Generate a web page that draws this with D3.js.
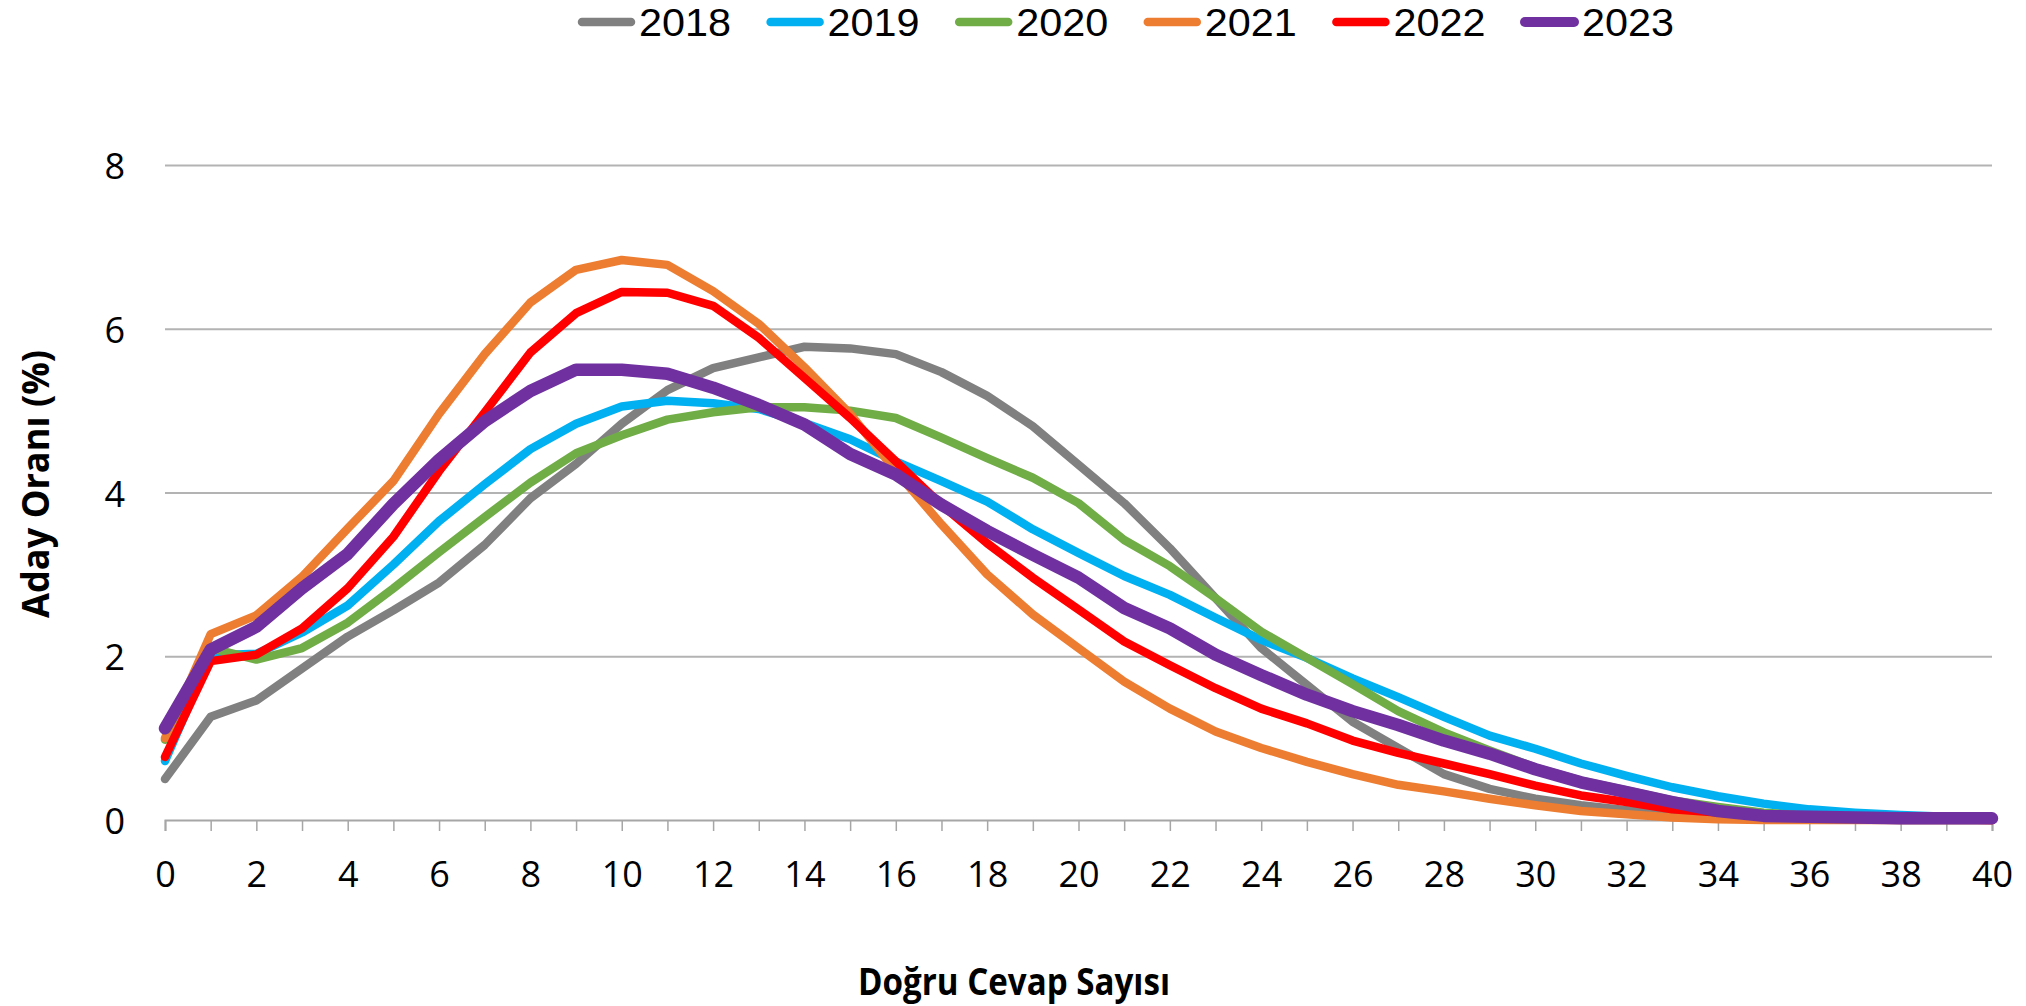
<!DOCTYPE html>
<html>
<head>
<meta charset="utf-8">
<script src="https://cdn.jsdelivr.net/npm/d3@7"></script>
<style>
  html, body { margin: 0; padding: 0; background: #ffffff; }
  svg { display: block; }
</style>
</head>
<body>
<svg id="chart" width="2026" height="1006"></svg>
<script>
// ---- data ----
const answers = d3.range(0, 41); // Doğru Cevap Sayısı 0..40
const years = ["2018", "2019", "2020", "2021", "2022", "2023"];
const yTicks = [0, 2, 4, 6, 8];
const xTickLabels = d3.range(0, 41, 2);

const s2018 = [0.50,1.26,1.46,1.85,2.24,2.56,2.90,3.36,3.93,4.35,4.84,5.25,5.52,5.65,5.78,5.76,5.69,5.47,5.18,4.81,4.34,3.87,3.32,2.71,2.10,1.65,1.20,0.88,0.56,0.38,0.26,0.18,0.12,0.07,0.04,0.02,0.01,0.01,0.00,0.00,0.00];
const s2019 = [0.72,2.01,2.03,2.29,2.62,3.12,3.65,4.10,4.53,4.84,5.05,5.12,5.09,5.02,4.85,4.65,4.38,4.14,3.89,3.55,3.26,2.98,2.75,2.47,2.20,1.98,1.73,1.50,1.26,1.03,0.87,0.69,0.54,0.40,0.29,0.20,0.13,0.09,0.06,0.04,0.03];
const s2020 = [0.98,2.10,1.96,2.10,2.41,2.83,3.27,3.70,4.12,4.48,4.70,4.89,4.98,5.04,5.04,5.00,4.91,4.67,4.42,4.18,3.87,3.42,3.10,2.71,2.30,1.98,1.66,1.33,1.07,0.85,0.64,0.48,0.36,0.24,0.16,0.09,0.05,0.03,0.02,0.01,0.01];
const s2021 = [1.00,2.27,2.50,2.97,3.56,4.14,4.96,5.69,6.32,6.72,6.84,6.78,6.46,6.06,5.53,4.96,4.26,3.61,3.00,2.51,2.10,1.69,1.36,1.08,0.88,0.71,0.56,0.43,0.35,0.26,0.18,0.11,0.07,0.03,0.01,0.00,0.00,0.00,0.00,0.00,0.00];
const s2022 = [0.77,1.94,2.02,2.34,2.83,3.46,4.26,4.98,5.71,6.19,6.45,6.44,6.28,5.89,5.40,4.91,4.38,3.85,3.38,2.96,2.57,2.18,1.89,1.61,1.36,1.18,0.97,0.82,0.69,0.56,0.42,0.30,0.22,0.13,0.09,0.05,0.03,0.02,0.01,0.01,0.00];
const s2023 = [1.12,2.08,2.36,2.83,3.25,3.86,4.40,4.87,5.24,5.50,5.50,5.45,5.28,5.07,4.83,4.47,4.22,3.85,3.53,3.24,2.96,2.59,2.34,2.02,1.77,1.53,1.33,1.16,0.97,0.81,0.62,0.46,0.34,0.22,0.11,0.05,0.04,0.03,0.02,0.02,0.02];

const seriesValues = [s2018, s2019, s2020, s2021, s2022, s2023];
const colors = ["#808080", "#00b0f0", "#70ad47", "#ed7d31", "#ff0000", "#7030a0"];
const widths = [8.5, 8.5, 8.5, 8.5, 8.5, 12.5];

// ---- layout ----
const svg = d3.select("#chart");
const x = d3.scaleLinear().domain([0, 40]).range([165, 1992]);
const y = d3.scaleLinear().domain([0, 8]).range([820, 165]);
const FONT = "'Open Sans', 'DejaVu Sans', sans-serif";
const LEGEND_FONT = "'Liberation Sans', Arial, sans-serif";

// gridlines + y labels
const yAxis = svg.append("g")
  .attr("transform", `translate(${x(0)},0)`)
  .call(d3.axisLeft(y).tickValues(yTicks).tickSize(-(x(40) - x(0))).tickPadding(40).tickFormat(d3.format("d")));
yAxis.select(".domain").remove();
yAxis.selectAll(".tick line").attr("stroke", "#b3b3b3").attr("stroke-width", 2)
  .attr("opacity", d => d === 0 ? 0 : 1);
yAxis.selectAll(".tick text")
  .attr("font-family", FONT).attr("font-size", 36).attr("fill", "#000")
  .attr("dy", null).attr("dominant-baseline", "central");

// x axis
const xAxis = svg.append("g")
  .attr("transform", `translate(0,${y(0)})`)
  .call(d3.axisBottom(x).tickValues(answers).tickSize(11).tickPadding(30)
    .tickFormat(d => (xTickLabels.includes(d) ? d : "")));
xAxis.select(".domain").attr("stroke", "#a6a6a6").attr("stroke-width", 2);
xAxis.selectAll(".tick line").attr("stroke", "#a6a6a6").attr("stroke-width", 1.5);
xAxis.selectAll(".tick text")
  .attr("font-family", FONT).attr("font-size", 36).attr("fill", "#000");

// lines
const line = d3.line().x((d, i) => x(answers[i])).y(d => y(d));
const plot = svg.append("g");
seriesValues.forEach((vals, k) => {
  plot.append("path")
    .datum(vals)
    .attr("d", line)
    .attr("fill", "none")
    .attr("stroke", colors[k])
    .attr("stroke-width", widths[k])
    .attr("stroke-linejoin", "round")
    .attr("stroke-linecap", "round");
});

// legend
const legendStart = 578, legendPitch = 188.6;
const legend = svg.append("g");
years.forEach((yr, k) => {
  const gx = legendStart + k * legendPitch;
  legend.append("line")
    .attr("x1", gx + 4).attr("x2", gx + 53).attr("y1", 22).attr("y2", 22)
    .attr("stroke", colors[k]).attr("stroke-width", k === 5 ? 10 : 8.5)
    .attr("stroke-linecap", "round");
  legend.append("text")
    .attr("x", gx + 61).attr("y", 36)
    .attr("font-family", LEGEND_FONT).attr("font-size", 39).attr("fill", "#000")
    .attr("textLength", 92).attr("lengthAdjust", "spacingAndGlyphs")
    .text(yr);
});

// axis titles
svg.append("text")
  .attr("x", 1014).attr("y", 995)
  .attr("text-anchor", "middle")
  .attr("font-family", FONT).attr("font-weight", "bold").attr("font-size", 37)
  .attr("textLength", 312).attr("lengthAdjust", "spacingAndGlyphs")
  .attr("fill", "#000")
  .text("Doğru Cevap Sayısı");

svg.append("text")
  .attr("transform", "translate(49,484) rotate(-90)")
  .attr("text-anchor", "middle")
  .attr("font-family", FONT).attr("font-weight", "bold").attr("font-size", 37)
  .attr("textLength", 268).attr("lengthAdjust", "spacingAndGlyphs")
  .attr("fill", "#000")
  .text("Aday Oranı (%)");
</script>
</body>
</html>
